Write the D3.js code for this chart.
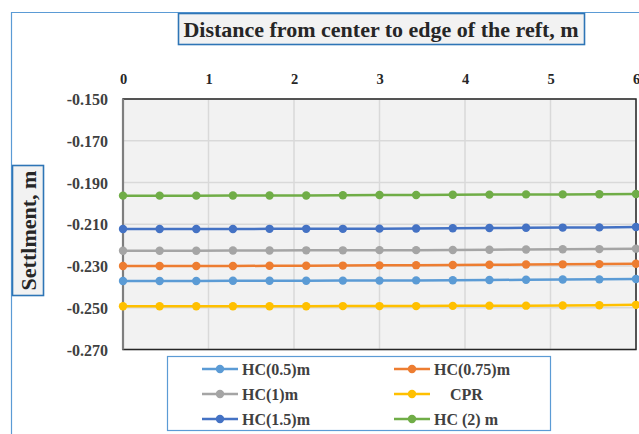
<!DOCTYPE html>
<html><head><meta charset="utf-8">
<script src="https://cdn.jsdelivr.net/npm/d3@7/dist/d3.min.js"></script>
<style>body{margin:0;background:#fff}svg{display:block}</style>
</head><body>
<svg id="c" width="639" height="434"></svg>
<script>
const xTicks = [0,1,2,3,4,5,6];
const yTicks = [-0.150,-0.170,-0.190,-0.210,-0.230,-0.250,-0.270];
const xValues = [0,0.4286,0.8571,1.2857,1.7143,2.1429,2.5714,3,3.4286,3.8571,4.2857,4.7143,5.1429,5.5714,6];
const seriesNames = ["HC(0.5)m","HC(0.75)m","HC(1)m","CPR","HC(1.5)m","HC (2) m"];
const hc05 = [-0.2372,-0.2372,-0.2372,-0.2371,-0.2371,-0.2371,-0.2370,-0.2370,-0.2369,-0.2368,-0.2367,-0.2366,-0.2365,-0.2364,-0.2362];
const hc075 = [-0.2300,-0.2300,-0.2300,-0.2300,-0.2299,-0.2299,-0.2298,-0.2297,-0.2296,-0.2295,-0.2294,-0.2293,-0.2292,-0.2291,-0.2289];
const hc1 = [-0.2227,-0.2227,-0.2227,-0.2226,-0.2226,-0.2225,-0.2225,-0.2224,-0.2224,-0.2223,-0.2222,-0.2221,-0.2220,-0.2219,-0.2217];
const cpr = [-0.2493,-0.2493,-0.2493,-0.2493,-0.2493,-0.2493,-0.2492,-0.2492,-0.2492,-0.2491,-0.2490,-0.2490,-0.2489,-0.2488,-0.2486];
const hc15 = [-0.2123,-0.2123,-0.2123,-0.2123,-0.2122,-0.2122,-0.2122,-0.2121,-0.2120,-0.2119,-0.2118,-0.2117,-0.2116,-0.2115,-0.2113];
const hc2 = [-0.1963,-0.1963,-0.1963,-0.1962,-0.1962,-0.1962,-0.1961,-0.1960,-0.1960,-0.1959,-0.1958,-0.1957,-0.1957,-0.1956,-0.1955];
const seriesValues = [hc05,hc075,hc1,cpr,hc15,hc2];
const colors = ["#5b9bd5","#ed7d31","#a5a5a5","#ffc000","#4472c4","#70ad47"];

const svg = d3.select("#c");
const F = "'Liberation Serif','Times New Roman',serif";
const L = 123, R = 636, T = 99, B = 349.5;
const x = d3.scaleLinear().domain([0,6]).range([L,R]);
const y = d3.scaleLinear().domain([-0.150,-0.270]).range([T,B]);

// outer chart border
svg.append("path").attr("d","M11.5,434 V12.5 H639").attr("fill","none").attr("stroke","#5b9bd5").attr("stroke-width",1.2);

// plot area
svg.append("rect").attr("x",L).attr("y",T).attr("width",R-L).attr("height",B-T).attr("fill","#f2f2f2");
svg.append("g").selectAll("line").data(xTicks).join("line")
  .attr("x1",d=>x(d)).attr("x2",d=>x(d)).attr("y1",T).attr("y2",B)
  .attr("stroke","#d9d9d9").attr("stroke-width",1.5);
svg.append("g").selectAll("line").data(yTicks).join("line")
  .attr("x1",L).attr("x2",R).attr("y1",d=>y(d)).attr("y2",d=>y(d))
  .attr("stroke","#d9d9d9").attr("stroke-width",1.5);
svg.append("rect").attr("x",L).attr("y",T).attr("width",R-L).attr("height",B-T)
  .attr("fill","none").attr("stroke","#262626").attr("stroke-width",1.5);
svg.append("line").attr("x1",L).attr("x2",L).attr("y1",T).attr("y2",B).attr("stroke","#7f7f7f").attr("stroke-width",2.2);

// axes
const fmtY = d => d3.format(".3f")(d).replace("\u2212","-");
const xAxis = svg.append("g").attr("transform",`translate(0,${T-20})`)
  .call(d3.axisTop(x).tickValues(xTicks).tickSize(0).tickFormat(d3.format("d")));
xAxis.select(".domain").remove();
xAxis.selectAll("text").style("font-family",F).style("font-weight","bold").style("font-size","14.5px").attr("fill","#262626").attr("dy","0.35em").attr("y",0);

const yAxis = svg.append("g").attr("transform",`translate(${L-15},0)`)
  .call(d3.axisLeft(y).tickValues(yTicks).tickSize(0).tickFormat(fmtY));
yAxis.select(".domain").remove();
yAxis.selectAll("text").style("font-family",F).style("font-weight","bold").style("font-size","16px").attr("fill","#404040").attr("dy","0.35em").attr("x",0);

// series
const line = d3.line().x((d,i)=>x(xValues[i])).y(d=>y(d));
seriesValues.forEach((vals,k)=>{
  const g = svg.append("g");
  g.append("path").datum(vals).attr("d",line).attr("fill","none").attr("stroke",colors[k]).attr("stroke-width",2.5);
  g.selectAll("circle").data(vals).join("circle")
    .attr("cx",(d,i)=>x(xValues[i])).attr("cy",d=>y(d)).attr("r",4.2).attr("fill",colors[k]);
});

// title box
svg.append("rect").attr("x",178.5).attr("y",13.5).attr("width",406).attr("height",31).attr("fill","#f2f2f2").attr("stroke","#2e75b6").attr("stroke-width",1.6);
svg.append("text").attr("x",381).attr("y",36.5).attr("text-anchor","middle")
  .style("font-family",F).style("font-weight","bold").style("font-size","22px").attr("fill","#262626")
  .text("Distance from center to edge of the reft, m");

// y title box
svg.append("rect").attr("x",12.5).attr("y",165.5).attr("width",31).attr("height",130).attr("fill","#f2f2f2").attr("stroke","#2e75b6").attr("stroke-width",1.6);
svg.append("text").attr("transform","translate(35.5,230.5) rotate(-90)").attr("text-anchor","middle")
  .style("font-family",F).style("font-weight","bold").style("font-size","22px").attr("fill","#262626")
  .text("Settlment, m");

// legend
svg.append("rect").attr("x",167.5).attr("y",356.5).attr("width",383).attr("height",74).attr("fill","#fff").attr("stroke","#5b9bd5").attr("stroke-width",1.2);
const legPos = [[202,369],[394,369],[202,394],[394,394],[202,419],[394,419]];
const legTextX = [242,434,242,450,242,434];
seriesNames.forEach((n,k)=>{
  const [lx,ly] = legPos[k];
  svg.append("line").attr("x1",lx).attr("x2",lx+36).attr("y1",ly).attr("y2",ly).attr("stroke",colors[k]).attr("stroke-width",2.5);
  svg.append("circle").attr("cx",lx+18).attr("cy",ly).attr("r",4.2).attr("fill",colors[k]);
  svg.append("text").attr("x",legTextX[k]).attr("y",ly).attr("dy","0.35em")
    .style("font-family",F).style("font-weight","bold").style("font-size","16px").attr("fill","#404040").text(n);
});
</script>
</body></html>
